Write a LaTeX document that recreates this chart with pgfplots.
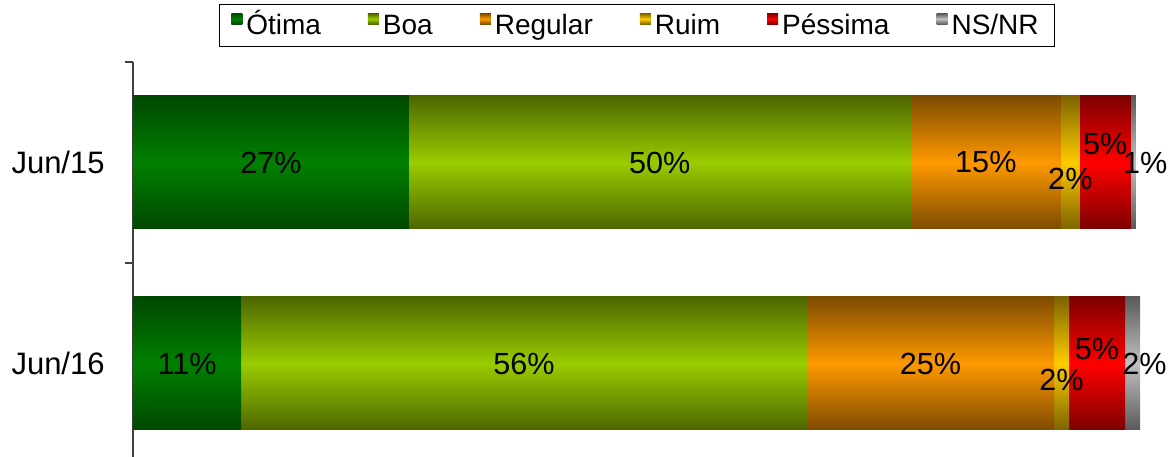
\documentclass[border=0pt]{standalone}
\usepackage{pgfplots}
\pgfplotsset{compat=1.18}
\usepackage{fontspec}
\setmainfont{Liberation Sans}
\definecolor{otimaM}{RGB}{0,128,0}
\definecolor{otimaE}{RGB}{0,72,0}
\definecolor{boaM}{RGB}{153,204,0}
\definecolor{boaE}{RGB}{77,102,0}
\definecolor{regM}{RGB}{255,153,0}
\definecolor{regE}{RGB}{125,75,0}
\definecolor{ruimM}{RGB}{255,204,0}
\definecolor{ruimE}{RGB}{125,100,0}
\definecolor{pesM}{RGB}{255,0,0}
\definecolor{pesE}{RGB}{125,0,0}
\definecolor{nsM}{RGB}{192,192,192}
\definecolor{nsE}{RGB}{90,90,90}
\pgfplotsset{
  grad/.style n args={2}{top color=#2, bottom color=#2, middle color=#1, draw=none,
    legend image code/.code={\path[##1,draw=none] (-0.5pt,0.5pt) rectangle (5pt,6pt);}},
  common/.style={
    x=5.015pt, y=100.5pt,
    xmin=0, xmax=100.5, ymin=-0.465, ymax=1.5,
    xbar stacked, bar width=66.5pt,
    clip=false,
    point meta=explicit symbolic,
    nodes near coords={\pgfplotspointmeta\%},
    every node near coord/.style={anchor=center, inner sep=0pt,
      font=\fontsize{15.3pt}{18pt}\selectfont, text=black},
  },
}
\begin{document}
\begin{tikzpicture}
\begin{axis}[
  common,
  name=ax,
  axis x line=none, axis y line*=left,
  y axis line style={draw=black!75, line width=0.6pt},
  ytick={0.5,1.5}, yticklabels={Jun/16,Jun/15},
  yticklabel style={yshift=-50.25pt, font=\fontsize{15.5pt}{18pt}\selectfont, inner sep=0pt, xshift=-10pt},
  tick align=outside, major tick length=4pt,
  y tick style={draw=black!75, line width=0.6pt},
  legend style={at={(0.5,1)}, anchor=south, yshift=7.5pt, draw=black, line width=0.6pt,
    font=\fontsize{14pt}{16pt}\selectfont, inner xsep=6pt, inner ysep=1pt,
    nodes={text height=12pt, text depth=3pt},
    /tikz/every even column/.append style={column sep=21.5pt}},
  legend columns=6,
]
\addplot[grad={otimaM}{otimaE}] coordinates {(27.5,1) [27]};
\addplot[grad={boaM}{boaE}] coordinates {(50.05,1) [50]};
\addplot[grad={regM}{regE}] coordinates {(14.96,1) [15]};
\addplot[grad={ruimM}{ruimE}, every node near coord/.append style={yshift=-8pt}] coordinates {(1.89,1) [2]};
\addplot[grad={pesM}{pesE}, every node near coord/.append style={yshift=9pt}] coordinates {(5.08,1) [5]};
\addplot[grad={nsM}{nsE}, every node near coord/.append style={xshift=6pt}] coordinates {(0.5,1) [1]};
\legend{Ótima,Boa,Regular,Ruim,Péssima,NS/NR}
\end{axis}
\begin{axis}[
  common,
  at={(ax.south west)}, anchor=south west,
  axis lines=none,
]
\addplot[grad={otimaM}{otimaE}] coordinates {(10.77,0) [11]};
\addplot[grad={boaM}{boaE}] coordinates {(56.43,0) [56]};
\addplot[grad={regM}{regE}] coordinates {(24.63,0) [25]};
\addplot[grad={ruimM}{ruimE}, every node near coord/.append style={yshift=-8pt}] coordinates {(1.5,0) [2]};
\addplot[grad={pesM}{pesE}, every node near coord/.append style={yshift=7pt}] coordinates {(5.58,0) [5]};
\addplot[grad={nsM}{nsE}, every node near coord/.append style={xshift=6pt}] coordinates {(1.5,0) [2]};
\end{axis}
\pgfresetboundingbox
\path[use as bounding box] ([xshift=-66.5pt]ax.south west) rectangle ([xshift=15pt,yshift=31pt]ax.north east);
\end{tikzpicture}
\end{document}
